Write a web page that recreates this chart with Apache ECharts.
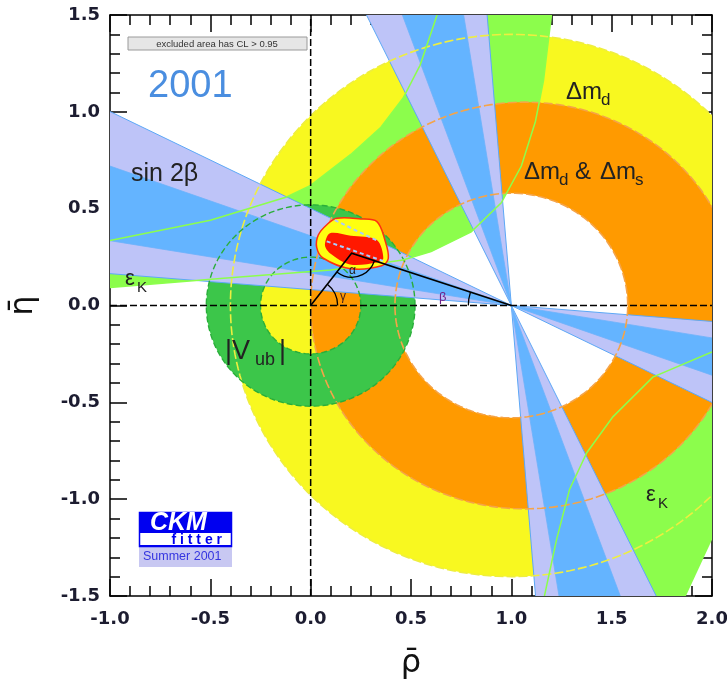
<!DOCTYPE html>
<html><head><meta charset="utf-8">
<script src="https://cdn.jsdelivr.net/npm/echarts@6/dist/echarts.min.js"></script>
<style>html,body{margin:0;padding:0;background:#fff}#c{width:727px;height:679px}</style>
</head><body><div id="c"></div>
<script>
// ---------------- data ----------------
const rhoRange = [-1.0, 2.0];
const etaRange = [-1.5, 1.5];
const tickStep = 0.5;

// Δm_d band (circle around (1,0))
const dmdCenter = [1.0, 0.0];
const dmdRadii = [0.80, 1.40];
// Δm_d & Δm_s band: outer ellipse, inner circle
const dmsOuterCenter = [1.067, 0.0];
const dmsOuterRadii = [1.067, 1.05];
const dmsInnerCenter = [1.0, 0.0];
const dmsInnerRadius = 0.58;
// |Vub| ring around the origin
const vubCenter = [0.0, 0.0];
const vubRadii = [0.25, 0.52];
// sin2β wedges from (1,0): angle ranges (deg) measured from the -ρ direction
const sin2bApex = [1.0, 0.0];
const sin2bWide = [[4.7, 26.6], [64.3, 85.4]];
const sin2bNarrow = [[9.5, 19.8], [70.1, 81.0]];
// ε_K band boundaries
const epsKUpperInner = [[-1.0,0.093],[-0.45,0.14],[0.1,0.183],[0.46,0.235],[0.6,0.278],[0.8,0.38],[0.95,0.53],[1.05,0.72],[1.12,0.95],[1.16,1.16],[1.2,1.5]];
const epsKUpperOuter = [[-1.0,0.335],[-0.5,0.44],[-0.12,0.56],[0.0,0.62],[0.2,0.78],[0.35,0.92],[0.46,1.07],[0.545,1.24],[0.63,1.5]];
const epsKLowerInner = [[2.0,-0.24],[1.705,-0.37],[1.506,-0.575],[1.376,-0.76],[1.29,-0.95],[1.225,-1.21],[1.165,-1.5]];
const epsKLowerOuter = [[1.87,-1.5],[2.0,-1.21]];
// global fit region
const fitOuter = [[0.038,0.364],[0.079,0.416],[0.13,0.45],[0.25,0.447],[0.33,0.433],[0.37,0.338],[0.387,0.244],[0.354,0.205],[0.2,0.19],[0.063,0.244],[0.03,0.30]];
const fitInner = [[0.071,0.312],[0.096,0.373],[0.2,0.36],[0.33,0.338],[0.362,0.244],[0.33,0.222],[0.196,0.212],[0.096,0.27]];
// unitarity triangle
const utOrigin = [0.0, 0.0];
const utApex = [0.204, 0.27];
const utRight = [1.0, 0.0];

// ---------------- helpers ----------------
const D2R = Math.PI / 180;
function ellipsePts(c, rx, ry, n, reverse) {
  const pts = [];
  for (let i = 0; i <= n; i++) {
    const a = (reverse ? -1 : 1) * 2 * Math.PI * i / n;
    pts.push([c[0] + rx * Math.cos(a), c[1] + ry * Math.sin(a)]);
  }
  return pts;
}
function toPath(api, rings) {
  return rings.map(r => r.map((p, i) => {
    const q = api.coord(p);
    return (i ? 'L' : 'M') + q[0].toFixed(2) + ' ' + q[1].toFixed(2);
  }).join(' ') + ' Z').join(' ');
}
function px(api, pts) { return pts.map(p => api.coord(p)); }
function wedgePts(apex, a0, a1, sign) {
  const L = 5;
  return [apex,
    [apex[0] - sign * L * Math.cos(a0 * D2R), apex[1] + sign * L * Math.sin(a0 * D2R)],
    [apex[0] - sign * L * Math.cos(a1 * D2R), apex[1] + sign * L * Math.sin(a1 * D2R)]];
}
function shapeSeries(z, build) {
  return { type: 'custom', coordinateSystem: 'cartesian2d', clip: true, z: z, silent: true,
    animation: false, data: [[0, 0]], renderItem: function (params, api) { return build(api); } };
}

const YELLOW = '#f8f820', ORANGE = '#ff9a00', LGREEN = '#8cfd4c', DGREEN = '#3cc64a',
      BLUE = '#64b4ff', LAV = '#bec4f8';

const series = [];
// Δm_d yellow annulus
series.push(shapeSeries(1, api => ({ type: 'path',
  shape: { pathData: toPath(api, [ellipsePts(dmdCenter, dmdRadii[1], dmdRadii[1], 180, false),
                                   ellipsePts(dmdCenter, dmdRadii[0], dmdRadii[0], 180, true)]) },
  style: { fill: YELLOW } })));
// ε_K light green band
series.push(shapeSeries(2, api => ({ type: 'group', children: [
  { type: 'polygon', shape: { points: px(api, epsKUpperInner.concat(epsKUpperOuter.slice().reverse())) }, style: { fill: LGREEN } },
  { type: 'polygon', shape: { points: px(api, epsKLowerInner.concat(epsKLowerOuter)) }, style: { fill: LGREEN } }
]})));
// Δm_d & Δm_s orange ring
series.push(shapeSeries(3, api => ({ type: 'path',
  shape: { pathData: toPath(api, [ellipsePts(dmsOuterCenter, dmsOuterRadii[0], dmsOuterRadii[1], 180, false),
                                   ellipsePts(dmsInnerCenter, dmsInnerRadius, dmsInnerRadius, 180, true)]) },
  style: { fill: ORANGE } })));
// |Vub| dark green ring
series.push(shapeSeries(4, api => ({ type: 'path',
  shape: { pathData: toPath(api, [ellipsePts(vubCenter, vubRadii[1], vubRadii[1], 120, false),
                                   ellipsePts(vubCenter, vubRadii[0], vubRadii[0], 120, true)]) },
  style: { fill: DGREEN } })));
// sin2β wedges
series.push(shapeSeries(5, api => {
  const ch = [];
  sin2bWide.forEach(a => [1, -1].forEach(s => ch.push({ type: 'polygon',
    shape: { points: px(api, wedgePts(sin2bApex, a[0], a[1], s)) }, style: { fill: LAV, stroke: '#5ca8f6', lineWidth: 1 } })));
  sin2bNarrow.forEach(a => [1, -1].forEach(s => ch.push({ type: 'polygon',
    shape: { points: px(api, wedgePts(sin2bApex, a[0], a[1], s)) }, style: { fill: BLUE, stroke: '#6cb2fb', lineWidth: 0.8 } })));
  return { type: 'group', children: ch };
}));
// contour outlines
series.push(shapeSeries(6, api => ({ type: 'group', children: [
  { type: 'polyline', shape: { points: px(api, ellipsePts(dmdCenter, dmdRadii[1], dmdRadii[1], 240, false)) },
    style: { stroke: '#eeee40', lineWidth: 1.6, lineDash: [9, 3], fill: 'none' } },
  { type: 'polyline', shape: { points: px(api, ellipsePts(dmsOuterCenter, dmsOuterRadii[0], dmsOuterRadii[1], 240, false)) },
    style: { stroke: '#f5a448', lineWidth: 1.6, lineDash: [9, 3], fill: 'none' } },
  { type: 'polyline', shape: { points: px(api, ellipsePts(dmsInnerCenter, dmsInnerRadius, dmsInnerRadius, 180, false)) },
    style: { stroke: '#f5a448', lineWidth: 1.6, lineDash: [9, 3], fill: 'none' } },
  { type: 'polyline', shape: { points: px(api, ellipsePts(vubCenter, vubRadii[1], vubRadii[1], 160, false)) },
    style: { stroke: '#2aae3a', lineWidth: 1.4, lineDash: [6, 3], fill: 'none' } },
  { type: 'polyline', shape: { points: px(api, ellipsePts(vubCenter, vubRadii[0], vubRadii[0], 120, false)) },
    style: { stroke: '#2aae3a', lineWidth: 1.4, lineDash: [6, 3], fill: 'none' } },
  { type: 'polyline', shape: { points: px(api, epsKUpperInner) }, style: { stroke: '#8cff4c', lineWidth: 1.5, fill: 'none' } },
  { type: 'polyline', shape: { points: px(api, epsKUpperOuter) }, style: { stroke: '#8cff4c', lineWidth: 1.5, fill: 'none' } },
  { type: 'polyline', shape: { points: px(api, epsKLowerInner) }, style: { stroke: '#8cff4c', lineWidth: 1.5, fill: 'none' } }
]})));
// dashed zero lines
series.push(shapeSeries(7, api => ({ type: 'group', children: [
  { type: 'line', shape: (() => { const a = api.coord([rhoRange[0], 0]), b = api.coord([rhoRange[1], 0]); return { x1: a[0], y1: a[1], x2: b[0], y2: b[1] }; })(),
    style: { stroke: '#000', lineWidth: 1.5, lineDash: [7, 3] } },
  { type: 'line', shape: (() => { const a = api.coord([0, etaRange[0]]), b = api.coord([0, etaRange[1]]); return { x1: a[0], y1: a[1], x2: b[0], y2: b[1] }; })(),
    style: { stroke: '#000', lineWidth: 1.5, lineDash: [7, 3] } }
]})));
// fit region
series.push(shapeSeries(8, api => {
  const e1 = (r) => [r, Math.tan(sin2bWide[0][1] * D2R) * (1 - r)];
  const e2 = (r) => [r, Math.tan(sin2bNarrow[0][1] * D2R) * (1 - r)];
  return { type: 'group', children: [
    { type: 'polygon', shape: { points: px(api, fitOuter), smooth: 0.35 }, style: { fill: '#ffff10', stroke: '#ff3010', lineWidth: 1.5 } },
    { type: 'polygon', shape: { points: px(api, fitInner), smooth: 0.3 }, style: { fill: '#ff1800' } },
    { type: 'polyline', shape: { points: px(api, [e1(0.12), e1(0.33)]) }, style: { stroke: '#a8ccff', lineWidth: 2, lineDash: [4, 3], fill: 'none' } },
    { type: 'polyline', shape: { points: px(api, [e2(0.08), e2(0.36)]) }, style: { stroke: '#a8ccff', lineWidth: 2, lineDash: [4, 3], fill: 'none' } }
  ]};
}));
// unitarity triangle and angles
series.push(shapeSeries(9, api => {
  const o = api.coord(utOrigin), a = api.coord(utApex), r = api.coord(utRight);
  const angA = Math.atan2(a[1] - o[1], a[0] - o[0]);
  const angAO = Math.atan2(o[1] - a[1], o[0] - a[0]);
  const angAR = Math.atan2(r[1] - a[1], r[0] - a[0]);
  const angRA = Math.atan2(a[1] - r[1], a[0] - r[0]);
  return { type: 'group', children: [
    { type: 'polyline', shape: { points: [o, a, r] }, style: { stroke: '#000', lineWidth: 1.6, fill: 'none' } },
    { type: 'arc', shape: { cx: o[0], cy: o[1], r: 27, startAngle: angA, endAngle: 0, clockwise: true }, style: { stroke: '#000', lineWidth: 1.3, fill: 'none' } },
    { type: 'arc', shape: { cx: a[0], cy: a[1], r: 24, startAngle: angAR, endAngle: angAO, clockwise: true }, style: { stroke: '#000', lineWidth: 1.3, fill: 'none' } },
    { type: 'arc', shape: { cx: r[0], cy: r[1], r: 43, startAngle: Math.PI, endAngle: angRA + 2 * Math.PI, clockwise: true }, style: { stroke: '#000', lineWidth: 1.3, fill: 'none' } }
  ]};
}));

const AX = '#1c1c30';
function mkX(pos, labels) {
  return { type: 'value', position: pos, min: rhoRange[0], max: rhoRange[1], interval: tickStep,
    axisLine: { onZero: false, lineStyle: { color: '#000', width: 1.5 } },
    axisTick: { inside: true, length: 17, lineStyle: { color: '#000', width: 1.5 } },
    minorTick: { show: true, splitNumber: 5, length: 10, lineStyle: { color: '#000', width: 1.5 } },
    splitLine: { show: false }, minorSplitLine: { show: false },
    axisLabel: { show: labels, margin: 14, color: AX, fontFamily: 'DejaVu Sans', fontWeight: 'bold', fontSize: 18, formatter: v => v.toFixed(1) },
    name: labels ? 'ρ̄' : '', nameLocation: 'middle', nameGap: 52,
    nameTextStyle: { fontFamily: 'DejaVu Sans', fontSize: 32, color: '#111' } };
}
function mkY(pos, labels) {
  return { type: 'value', position: pos, min: etaRange[0], max: etaRange[1], interval: tickStep,
    axisLine: { onZero: false, lineStyle: { color: '#000', width: 1.5 } },
    axisTick: { inside: true, length: 17, lineStyle: { color: '#000', width: 1.5 } },
    minorTick: { show: true, splitNumber: 5, length: 10, lineStyle: { color: '#000', width: 1.5 } },
    splitLine: { show: false }, minorSplitLine: { show: false },
    axisLabel: { show: labels, margin: 10, color: AX, fontFamily: 'DejaVu Sans', fontWeight: 'bold', fontSize: 18, formatter: v => v.toFixed(1) },
    name: labels ? 'η̄' : '', nameLocation: 'middle', nameGap: 70, nameRotate: 90,
    nameTextStyle: { fontFamily: 'DejaVu Sans', fontSize: 32, color: '#111' } };
}

function txt(x, y, s, size, color, extra) {
  return Object.assign({ type: 'text', x: x, y: y, z: 100, silent: true,
    style: Object.assign({ text: s, fontSize: size, fill: color || '#111', fontFamily: 'Liberation Sans', verticalAlign: 'middle', align: 'left' }, extra || {}) });
}
const graphics = [
  { type: 'rect', z: 100, shape: { x: 128, y: 37, width: 179, height: 13 }, style: { fill: '#e6e6e6', stroke: '#9a9a9a', lineWidth: 1 } },
  txt(217, 44, 'excluded area has CL > 0.95', 9.5, '#333', { align: 'center' }),
  txt(148, 87, '2001', 38, '#4a8ee0'),
  txt(131, 174, 'sin 2β', 25, '#222'),
  txt(125, 279, 'ε', 22, '#222'), txt(137, 288, 'K', 15, '#222'),
  txt(566, 92, 'Δm', 24, '#222'), txt(601, 100, 'd', 17, '#222'),
  txt(524, 172, 'Δm', 24, '#222'), txt(559, 180, 'd', 17, '#222'), txt(575, 172, '&', 24, '#222'),
  txt(600, 172, 'Δm', 24, '#222'), txt(635, 180, 's', 17, '#222'),
  txt(646, 495, 'ε', 22, '#222'), txt(658, 504, 'K', 15, '#222'),
  txt(225, 352, '|V', 27, '#222'), txt(255, 360, 'ub', 18, '#222'), txt(279, 352, '|', 27, '#222'),
  txt(340, 297, 'γ', 12, '#402020'), txt(349, 271, 'α', 12, '#222'), txt(439, 297, 'β', 13, '#70208a'),
  // CKM fitter logo
  { type: 'rect', z: 100, shape: { x: 139.5, y: 512.5, width: 92, height: 34 }, style: { fill: '#fff', stroke: '#0000f0', lineWidth: 1.5 } },
  { type: 'rect', z: 100, shape: { x: 139, y: 512, width: 93, height: 21 }, style: { fill: '#0000f0' } },
  txt(150, 523, 'CKM', 25, '#fff', { fontStyle: 'italic', fontWeight: 'bold' }),
  txt(222, 540, 'f i t t e r', 14, '#0000f0', { fontWeight: 'bold', align: 'right' }),
  { type: 'rect', z: 100, shape: { x: 139, y: 545, width: 93, height: 2.5 }, style: { fill: '#0000f0' } },
  { type: 'rect', z: 100, shape: { x: 139, y: 547.5, width: 93, height: 19.5 }, style: { fill: '#c8c8f2' } },
  txt(143, 557, 'Summer 2001', 12.5, '#3535e0')
];

const chart = echarts.init(document.getElementById('c'), null, { renderer: 'canvas' });
chart.setOption({
  animation: false,
  backgroundColor: '#fff',
  grid: { left: 110, right: 15, top: 15, bottom: 83, containLabel: false, outerBoundsMode: 'none' },
  xAxis: [mkX('bottom', true), mkX('top', false)],
  yAxis: [mkY('left', true), mkY('right', false)],
  series: series,
  graphic: graphics
});
</script></body></html>
